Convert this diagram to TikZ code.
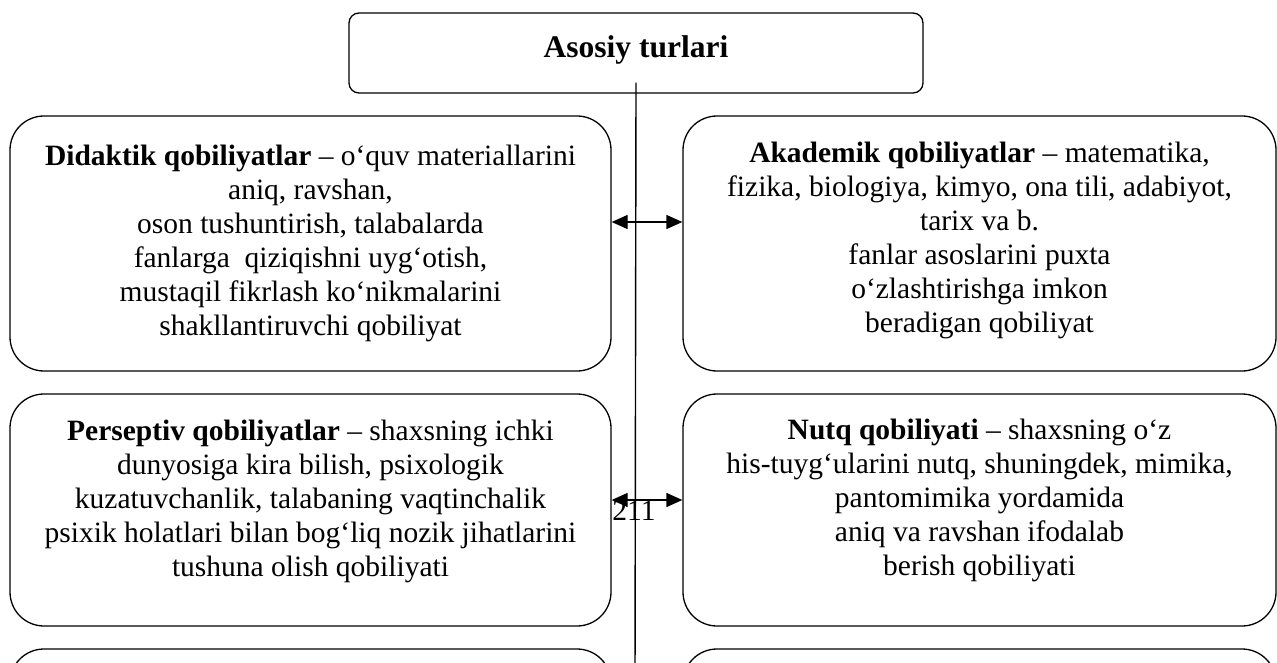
\documentclass[tikz,border=0pt]{standalone}
\usepackage{fontspec}
\setmainfont{Liberation Serif}
\usetikzlibrary{arrows.meta}
\begin{document}
\begin{tikzpicture}[x=1pt,y=-1pt,
  rbox/.style={draw, line width=1.3pt, rounded corners=34pt, inner sep=0pt, minimum width=#1},
  rbox/.default=601pt,
  topbox/.style={draw, line width=1.3pt, rounded corners=10pt, inner sep=0pt, minimum width=574pt, minimum height=80pt},
  bodytxt/.style={align=center, inner sep=0pt, font=\fontsize{29.5}{34}\selectfont},
  titletxt/.style={inner sep=0pt, font=\fontsize{31.5}{36}\selectfont\bfseries},
  vline/.style={line width=1.4pt},
  dblarrow/.style={line width=1.3pt, {Triangle[length=16pt,width=14pt]}-{Triangle[length=16pt,width=14pt]}}
]
\clip (0,0) rectangle (1277,663);
\fill[white] (0,0) rectangle (1277,663);

% top box
\node[topbox] (top) at (636,53) {};
\node[titletxt] (title) at (636,49.5) {Asosiy turlari};

% row 1
\node[rbox, minimum height=255pt] (L1) at (310.5,243.5) {};
\node[rbox=593pt, minimum height=255pt] (R1) at (979.5,243.5) {};
% row 2
\node[rbox, minimum height=232pt] (L2) at (310.5,510) {};
\node[rbox=593pt, minimum height=232pt] (R2) at (979.5,510) {};
% row 3 (cut off)
\node[rbox, minimum height=151pt] (L3) at (310.5,724.5) {};
\node[rbox=593pt, minimum height=151pt] (R3) at (979.5,724.5) {};

% texts
\node[bodytxt] (t1l) at (310.5,243) {\textbf{Didaktik qobiliyatlar} – o‘quv materiallarini\\
aniq, ravshan,\\
oson tushuntirish, talabalarda\\
fanlarga\ \ qiziqishni uyg‘otish,\\
mustaqil fikrlash ko‘nikmalarini\\
shakllantiruvchi qobiliyat};

\node[bodytxt] (t1r) at (979.5,240) {\textbf{Akademik qobiliyatlar} – matematika,\\
fizika, biologiya, kimyo, ona tili, adabiyot,\\
tarix va b.\\
fanlar asoslarini puxta\\
o‘zlashtirishga imkon\\
beradigan qobiliyat};

\node[bodytxt] (t2l) at (310.5,501.5) {\textbf{Perseptiv qobiliyatlar} – shaxsning ichki\\
dunyosiga kira bilish, psixologik\\
kuzatuvchanlik, talabaning vaqtinchalik\\
psixik holatlari bilan bog‘liq nozik jihatlarini\\
tushuna olish qobiliyati};

\node[bodytxt] (t2r) at (979.5,500.5) {\textbf{Nutq qobiliyati} – shaxsning o‘z\\
his-tuyg‘ularini nutq, shuningdek, mimika,\\
pantomimika yordamida\\
aniq va ravshan ifodalab\\
berish qobiliyati};

% vertical line
\coordinate (bot) at (635,680);
\draw[vline] ([yshift=11pt]top.south) -- (bot);

% page number overlapping
\node[bodytxt] (pg) at (634,511) {211};

% arrows
\draw[dblarrow] ([yshift=21.5pt]L1.east) -- ([yshift=21.5pt]R1.west);
\draw[dblarrow] ([yshift=10pt]L2.east) -- ([yshift=10pt]R2.west);
\end{tikzpicture}
\end{document}
